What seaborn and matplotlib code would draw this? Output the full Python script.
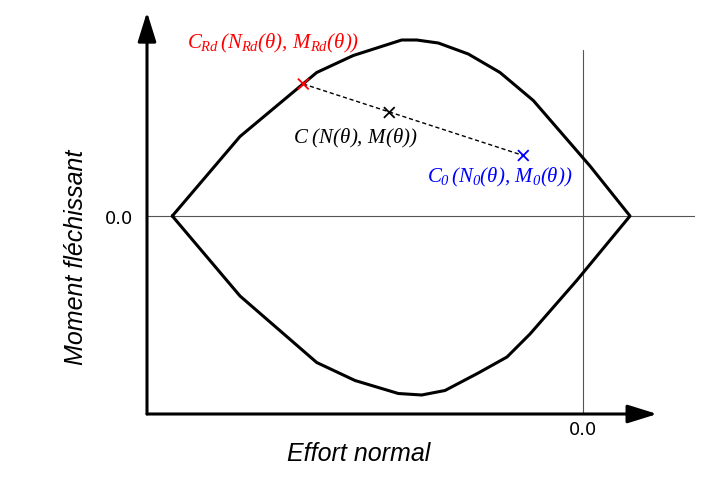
import numpy as np
import pandas as pd
import seaborn as sns
import matplotlib.pyplot as plt

# interaction curve N-M (upper branch then lower branch, closed)
N_curve = [-4107, -3430, -2663, -2297, -1813, -1663, -1447, -1147, -830, -497, 70, 470,
           -63, -530, -760, -1047, -1380, -1613, -1847, -2280, -2663, -3430, -4107]
M_curve = [0, 159, 287, 321, 352, 352, 346, 324, 287, 231, 100, 0,
           -129, -236, -282, -314, -349, -358, -355, -329, -293, -160, 0]

# points C_Rd, C, C_0
pt_names = ['CRd', 'C', 'C0']
pt_N = [-2797, -1937, -597]
pt_M = [264, 207, 121]
pt_colors = ['red', 'black', 'blue']

x_label = 'Effort normal'
y_label = 'Moment fléchissant'


def myplot():
	sns.set_style("white")
	plt.rcParams['font.family'] = ['DejaVu Sans']
	plt.rcParams['mathtext.fontset'] = 'custom'
	plt.rcParams['mathtext.it'] = 'Liberation Serif:italic'
	plt.rcParams['mathtext.rm'] = 'Liberation Serif:italic'
	plt.rcParams['text.color'] = 'black'
	plt.rcParams['axes.labelcolor'] = 'black'
	plt.rcParams['xtick.color'] = 'black'
	plt.rcParams['ytick.color'] = 'black'

	fig = plt.figure(figsize=(7.26, 4.81), dpi=100)
	ax = fig.add_axes([147 / 726, 66 / 481, 548 / 726, 402 / 481])

	curve = pd.DataFrame({'N': N_curve, 'M': M_curve})
	sns.lineplot(data=curve, x='N', y='M', sort=False, estimator=None,
				 color='black', lw=2.2, ax=ax)

	# reference lines through the origin
	ax.axhline(0, color='#555555', lw=0.8, zorder=0)
	ax.axvline(0, ymin=0, ymax=0.905, color='#555555', lw=0.8, zorder=0)

	# dashed segment C_Rd -> C_0
	ax.plot([pt_N[0], pt_N[2]], [pt_M[0], pt_M[2]], ls=(0, (3, 2)), color='black', lw=1.0)
	pts = pd.DataFrame({'N': pt_N, 'M': pt_M, 'name': pt_names})
	sns.scatterplot(data=pts, x='N', y='M', hue='name', palette=pt_colors, marker='x',
					s=60, linewidth=1.3, legend=False, ax=ax, zorder=5)

	ax.text(-3960, 338, r'$C_{Rd}\,(N_{Rd}(\theta),\,M_{Rd}(\theta))$', color='red',
			fontsize=15, ha='left', va='baseline')
	ax.text(-2900, 148, r'$C\ (N(\theta),\,M(\theta))$', color='black',
			fontsize=15, ha='left', va='baseline')
	ax.text(-1560, 70, r'$C_0\,(N_0(\theta),\,M_0(\theta))$', color='blue',
			fontsize=15, ha='left', va='baseline')

	ax.set_xlim(-4360, 1120)
	ax.set_ylim(-396, 408)
	ax.set_xticks([0])
	ax.set_yticks([0])
	ax.set_xticklabels(['0.0'])
	ax.set_yticklabels(['0.0'])
	ax.tick_params(axis='both', length=0, labelsize=13, labelcolor='black')
	ax.tick_params(axis='y', pad=10)
	ax.tick_params(axis='x', pad=4)

	for s in ax.spines.values():
		s.set_visible(False)

	# axes with arrow heads
	arr = dict(arrowstyle='-|>,head_length=0.9,head_width=0.28', lw=2.2, color='black',
			   shrinkA=0, shrinkB=0, mutation_scale=20)
	ax.annotate('', xy=(0.931, 0), xytext=(0, 0), xycoords='axes fraction',
				arrowprops=arr, annotation_clip=False)
	ax.annotate('', xy=(0, 1.0), xytext=(0, 0), xycoords='axes fraction',
				arrowprops=arr, annotation_clip=False)

	ax.set_xlabel(x_label, fontsize=18, style='italic', family='Liberation Sans', color='black')
	ax.set_ylabel(y_label, fontsize=18, style='italic', family='Liberation Sans', color='black')
	ax.xaxis.set_label_coords(0.387, -0.067)
	ax.yaxis.set_label_coords(-0.108, 0.393)

	plt.savefig('out.png', dpi=100)


myplot()
